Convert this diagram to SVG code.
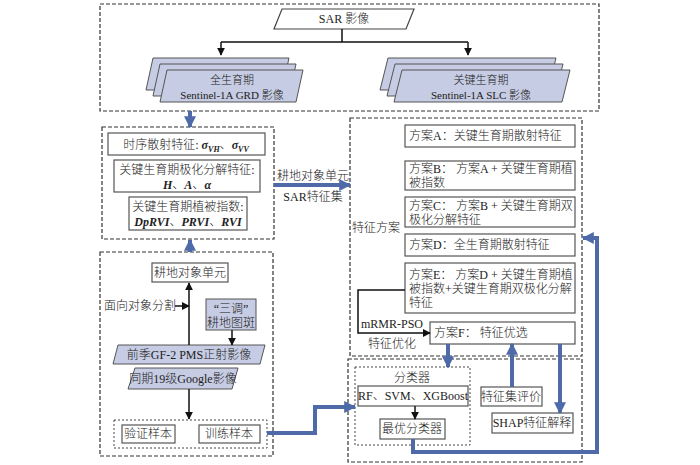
<svg xmlns="http://www.w3.org/2000/svg" width="700" height="465" viewBox="0 0 700 465">
<style>
text{font-family:"Liberation Serif","Noto Sans CJK SC",serif;font-size:12px;fill:#222;font-weight:300;}
.t11{font-size:11px;}
.c{text-anchor:middle;}
.box{fill:#fff;stroke:#555;stroke-width:1.2;}
.fill{fill:#c6cce3;stroke:#555;stroke-width:1;}
.dash{fill:none;stroke:#333;stroke-width:1.2;stroke-dasharray:4 2;}
.dot{fill:none;stroke:#444;stroke-width:1;stroke-dasharray:2 2;}
.blk{fill:none;stroke:#111;stroke-width:1.5;}
.blue{fill:none;stroke:#4f6aa8;stroke-width:4;}
.bi{font-weight:bold;font-style:italic;}
</style>
<defs>
<marker id="ab" viewBox="0 0 10 10" refX="9" refY="5" markerWidth="8" markerHeight="8" markerUnits="userSpaceOnUse" orient="auto"><path d="M0,0L10,5L0,10z" fill="#111"/></marker>
<marker id="au" viewBox="0 0 10 10" refX="9" refY="5" markerWidth="12" markerHeight="12" markerUnits="userSpaceOnUse" orient="auto"><path d="M0,0L10,5L0,10z" fill="#4f6aa8"/></marker>
<polygon id="pl" points="167,70 303,70 296,102 160,102"/>
<polygon id="pr" points="402,70 570,70 562,102 394,102"/>
</defs>

<g id="regions">
<rect class="dash" x="100" y="4" width="499" height="107"/>
<rect class="dash" x="102" y="127" width="172" height="112"/>
<rect class="dash" x="100" y="252" width="173" height="204"/>
<rect class="dash" x="350" y="118" width="232" height="238"/>
<rect class="dash" x="348" y="359" width="234" height="103"/>
</g>

<g id="sar">
<polygon class="box" points="282,9 414,9 406,29 274,29" style="stroke:#444"/>
<text class="c" x="344" y="23">SAR 影像</text>
</g>

<g id="grd">
<use href="#pl" class="fill" transform="translate(-14,-12)"/>
<use href="#pl" class="fill" transform="translate(-7,-6)"/>
<use href="#pl" class="fill"/>
<text class="c t11" x="232" y="84">全生育期</text>
<text class="c t11" x="232" y="99">Sentinel-1A GRD 影像</text>
</g>

<g id="slc">
<use href="#pr" class="fill" transform="translate(-14,-12)"/>
<use href="#pr" class="fill" transform="translate(-7,-6)"/>
<use href="#pr" class="fill"/>
<text class="c t11" x="481" y="84">关键生育期</text>
<text class="c t11" x="481" y="99">Sentinel-1A SLC 影像</text>
</g>

<g id="f1">
<rect class="box" x="108" y="133" width="157" height="22"/>
<text class="c" x="186" y="149">时序散射特征: <tspan class="bi">σ</tspan><tspan class="bi" font-size="8" dy="3">VH</tspan><tspan dy="-3">、</tspan><tspan class="bi">σ</tspan><tspan class="bi" font-size="8" dy="3">VV</tspan></text>
</g>
<g id="f2">
<rect class="box" x="114" y="160" width="146" height="32"/>
<text class="c" x="187" y="174">关键生育期极化分解特征:</text>
<text class="c" x="187" y="189"><tspan class="bi">H</tspan>、<tspan class="bi">A</tspan>、<tspan class="bi">α</tspan></text>
</g>
<g id="f3">
<rect class="box" x="129" y="197" width="118" height="33"/>
<text class="c" x="188" y="211">关键生育期植被指数:</text>
<text class="c" x="188" y="226"><tspan class="bi">DpRVI</tspan>、<tspan class="bi">PRVI</tspan>、<tspan class="bi">RVI</tspan></text>
</g>

<g id="unit">
<rect class="box" x="152" y="263" width="76" height="19"/>
<text class="c" x="190" y="277">耕地对象单元</text>
</g>
<g id="seg">
<text x="104" y="310">面向对象分割</text>
</g>
<g id="sandiao">
<rect class="fill" x="206" y="299" width="50" height="31"/>
<text class="c" x="231" y="313">“三调”</text>
<text class="c" x="231" y="327">耕地图斑</text>
</g>
<g id="gf2">
<polygon class="fill" points="118,345 265,345 260,364 113,364"/>
<text class="c" x="189" y="359">前季GF-2 PMS正射影像</text>
</g>
<g id="google">
<polygon class="fill" points="135,368 238,368 232,389 128,389"/>
<text class="c" x="183" y="383">同期19级Google影像</text>
</g>
<g id="samples">
<rect class="dot" x="114" y="420" width="153" height="28"/>
<rect class="box" x="122" y="425" width="53" height="18"/>
<text class="c" x="148" y="438">验证样本</text>
<rect class="box" x="199" y="425" width="61" height="18"/>
<text class="c" x="229" y="438">训练样本</text>
</g>

<g id="schemes">
<text x="352" y="232">特征方案</text>
<rect class="box" x="405" y="125" width="170" height="22"/>
<text x="409" y="140">方案A：关键生育期散射特征</text>
<rect class="box" x="405" y="161" width="170" height="29"/>
<text x="409" y="173">方案B： 方案A + 关键生育期植</text>
<text x="409" y="187">被指数</text>
<rect class="box" x="405" y="197" width="170" height="30"/>
<text x="409" y="210">方案C： 方案B + 关键生育期双</text>
<text x="409" y="224">极化分解特征</text>
<rect class="box" x="405" y="234" width="170" height="22"/>
<text x="409" y="249">方案D：全生育期散射特征</text>
<rect class="box" x="405" y="263" width="170" height="50"/>
<text x="409" y="279">方案E： 方案D + 关键生育期植</text>
<text x="409" y="293">被指数+关键生育期双极化分解</text>
<text x="409" y="307">特征</text>
</g>
<g id="schemeF">
<rect class="box" x="430" y="322" width="145" height="22"/>
<text x="434" y="337">方案F： 特征优选</text>
<text x="361" y="328">mRMR-PSO</text>
<text x="368" y="348">特征优化</text>
</g>

<g id="classifier">
<rect class="dot" x="355" y="367" width="115" height="78"/>
<text class="c" x="412" y="382">分类器</text>
<rect class="box" x="358" y="386" width="110" height="20"/>
<text class="c" x="413" y="400" font-size="10.8">RF、SVM、XGBoost</text>
<rect class="box" x="380" y="419" width="65" height="20"/>
<text class="c" x="412" y="433">最优分类器</text>
</g>
<g id="eval">
<rect class="box" x="481" y="387" width="61" height="19"/>
<text class="c" x="511" y="401">特征集评价</text>
</g>
<g id="shap">
<rect class="box" x="492" y="413" width="81" height="20"/>
<text class="c" x="532" y="427">SHAP特征解释</text>
</g>

<g id="labels">
<text class="c" x="313" y="180">耕地对象单元</text>
<text class="c" x="313" y="201">SAR特征集</text>
</g>

<g id="connectors">
<path class="blk" d="M342,29V42M221,42H468"/>
<path class="blk" d="M221,42V55" marker-end="url(#ab)"/>
<path class="blk" d="M468,42V55" marker-end="url(#ab)"/>
<path class="blk" d="M189,345V283" marker-end="url(#ab)"/>
<path class="blk" d="M175,306H189" marker-end="url(#ab)"/>
<path class="blk" d="M232,330V345" marker-end="url(#ab)"/>
<path class="blk" d="M189,389V419" marker-end="url(#ab)"/>
<path class="blk" d="M405,290H358V333H430" marker-end="url(#ab)"/>
<path class="blk" d="M415,406V419" marker-end="url(#ab)"/>
<path class="blue" d="M190,111V127" marker-end="url(#au)"/>
<path class="blue" d="M190,252V240" marker-end="url(#au)"/>
<path class="blue" d="M274,185H350" marker-end="url(#au)"/>
<path class="blue" d="M267,433H315V407H355" marker-end="url(#au)"/>
<path class="blue" d="M448,344V367" marker-end="url(#au)"/>
<path class="blue" d="M512,387V344" marker-end="url(#au)"/>
<path class="blue" d="M560,344V413" marker-end="url(#au)"/>
<path class="blue" d="M413,439V452H597V238H583" marker-end="url(#au)"/>
</g>
</svg>
